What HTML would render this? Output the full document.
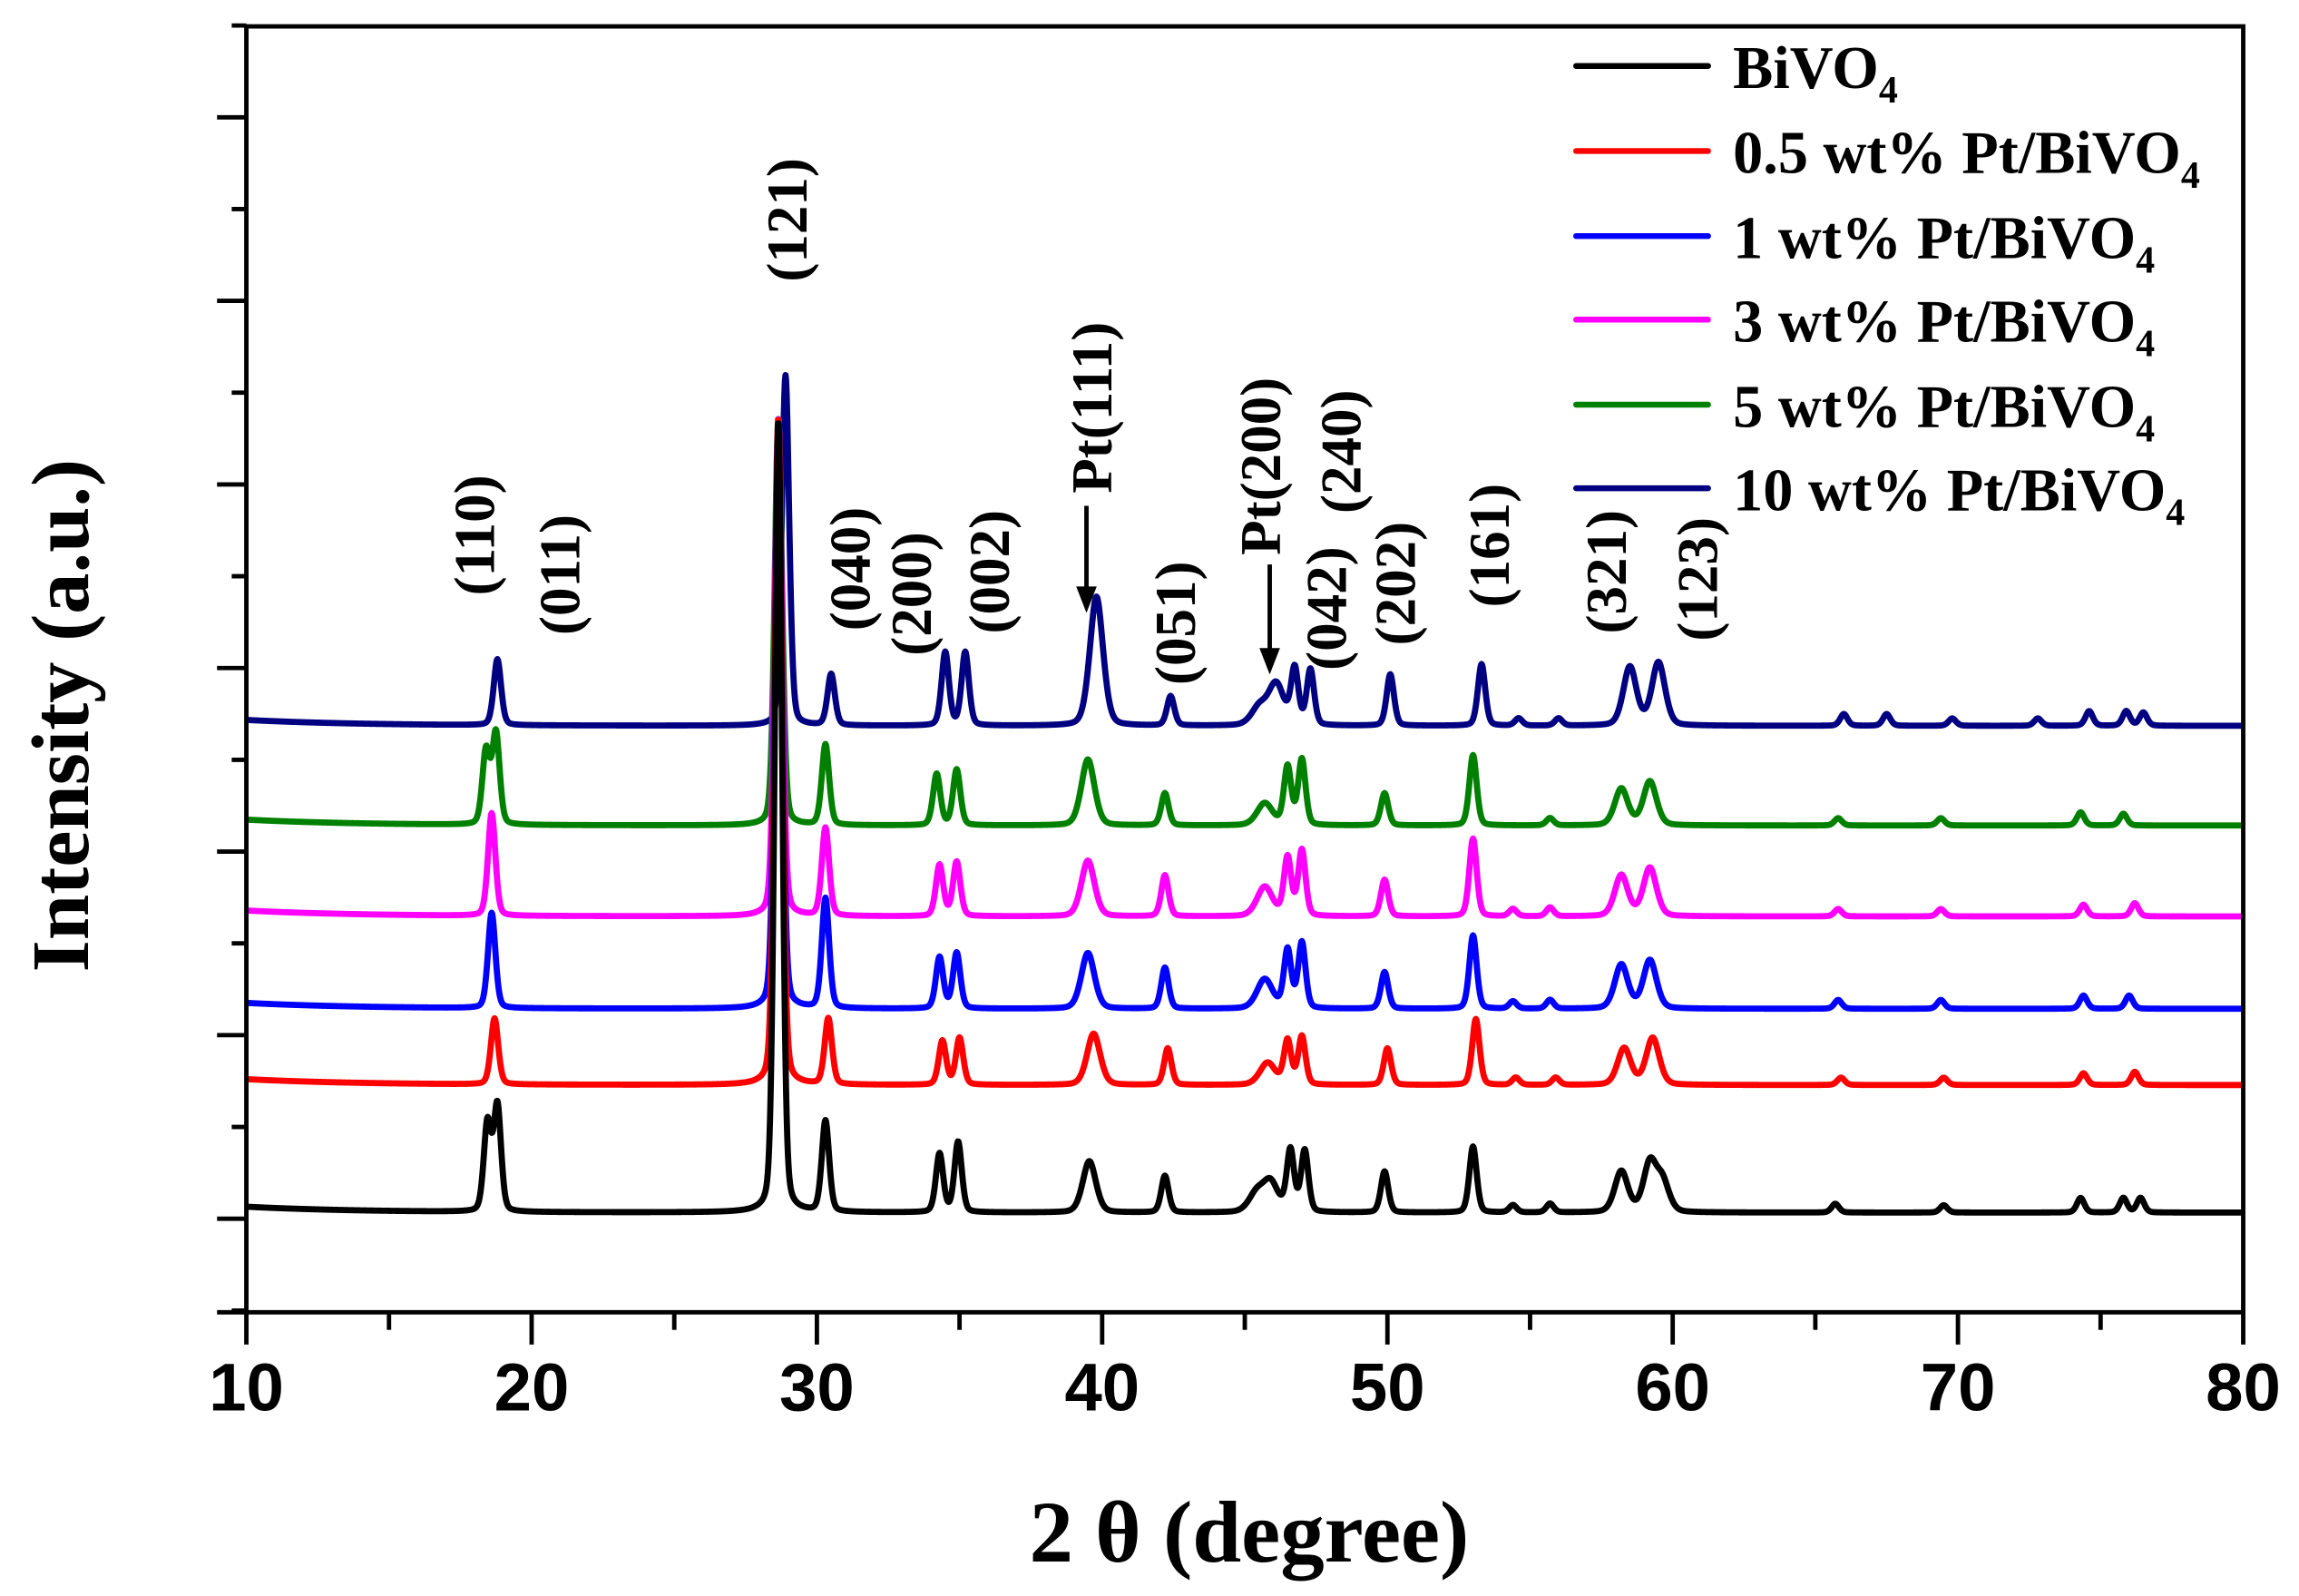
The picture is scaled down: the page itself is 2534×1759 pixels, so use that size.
<!DOCTYPE html>
<html><head><meta charset="utf-8"><style>
html,body{margin:0;padding:0;background:#fff;}
svg{display:block;}
text{font-family:"Liberation Serif",serif;font-weight:bold;fill:#000;}
.tk{font-family:"Liberation Sans",sans-serif;}
</style></head><body>
<svg id="chart" width="2534" height="1759" viewBox="0 0 1568 1088.5" xmlns="http://www.w3.org/2000/svg">
<g id="series"></g>
<g id="axes"></g>
<g id="ann"></g>
<g id="legend"></g>
<text x="852" y="1065" font-size="60" text-anchor="middle">2 θ (degree)</text>
<text transform="translate(60,488) rotate(-90)" font-size="56" text-anchor="middle">Intensity (a.u.)</text>
</svg>
<script>
const xTicks = [10,20,30,40,50,60,70,80];
const seriesNames = ["BiVO4","0.5 wt% Pt/BiVO4","1 wt% Pt/BiVO4","3 wt% Pt/BiVO4","5 wt% Pt/BiVO4","10 wt% Pt/BiVO4"];
const seriesColors = ["#000000","#ff0000","#0000ff","#ff00ff","#008000","#000080"];
const baselines = [0, 87, 139, 202, 264, 332];
const posBlack = [18.45,18.8,28.65,30.3,34.3,34.95,39.55,42.2,45.4,45.9,46.6,47.1,49.9,53.0,54.4,55.7,58.2,59.2,59.65,65.7,69.5,74.3,75.8,76.4];
const htBlack  = [60,72,540,62,40,48,35,25,12,20,42,42,28,45,5,6,28,33,20,6,5,10,10,10];
const posRed = [18.7,28.65,30.4,34.4,35.0,39.7,42.3,45.8,46.5,47.0,50.0,53.1,54.5,55.9,58.3,59.3,65.9,69.5,74.4,76.2];
const htRed  = [45,455,45,30,32,35,25,15,30,33,25,45,5,5,25,32,5,5,8,9];
const posBlue = [18.6,28.65,30.3,34.3,34.9,39.5,42.2,45.7,46.5,47.0,49.9,53.0,54.4,55.7,58.2,59.2,65.8,69.4,74.4,76.0];
const htBlue  = [65,400,75,35,38,38,28,20,40,45,25,50,5,6,30,33,6,6,9,9];
const posMag = [18.6,28.65,30.3,34.3,34.9,39.5,42.2,45.7,46.5,47.0,49.9,53.0,54.4,55.7,58.2,59.2,65.8,69.4,74.4,76.2];
const htMag  = [70,340,60,35,37,38,28,20,40,45,25,53,5,6,28,33,5,5,8,9];
const posGreen = [18.4,18.75,28.65,30.3,34.2,34.9,39.5,42.2,45.7,46.5,47.0,49.9,53.0,55.7,58.2,59.2,65.8,69.4,74.3,75.8];
const htGreen  = [50,62,278,55,35,38,45,22,15,40,45,22,48,5,25,30,5,5,9,8];
const posNavy = [18.8,28.9,30.5,34.5,35.2,39.8,42.4,45.5,46.1,46.75,47.3,50.1,53.3,54.6,56.0,58.5,59.5,66.0,67.5,69.8,72.8,74.6,75.9,76.5];
const htNavy  = [45,239,35,50,50,88,20,12,28,38,38,35,42,5,5,40,43,8,8,5,5,10,10,9];
const peakPos = [posBlack,posRed,posBlue,posMag,posGreen,posNavy];
const peakHt = [htBlack,htRed,htBlue,htMag,htGreen,htNavy];

const NS="http://www.w3.org/2000/svg";
const X0=168,X1=1530,YT=18,YB=895,Y0=827;
function xs(v){return X0+(v-10)/70*(X1-X0);}
function ys(v){return Y0-v;}
function mk(tag,attrs,parent){const e=document.createElementNS(NS,tag);for(const k in attrs)e.setAttribute(k,attrs[k]);parent.appendChild(e);return e;}

const sg=document.getElementById('series');
for(let s=seriesNames.length-1;s>=0;s--){
  const P=peakPos[s],H=peakHt[s];
  let d="";
  for(let x=10;x<=80.0001;x+=0.02){
    let y=baselines[s]+4*Math.exp(-(x-10)/4);
    for(let i=0;i<P.length;i++){
      const w=(P[i]>38.5&&P[i]<41)||(P[i]>57.5&&P[i]<60.5)?0.34:(P[i]>45&&P[i]<46.3?0.4:0.19);
      const t=(x-P[i])/w;
      y+=H[i]*(0.7*Math.exp(-t*t)+0.3/(1+t*t*2));
    }
    d+=(d?"L":"M")+xs(x).toFixed(2)+","+ys(y).toFixed(2);
  }
  const p=mk('path',{d:d,fill:'none',stroke:seriesColors[s],'stroke-width':4.2,'stroke-linejoin':'round'},sg);
  
  
}

const ax=document.getElementById('axes');
const frame=mk('rect',{x:X0,y:YT,width:X1-X0,height:YB-YT,fill:'none',stroke:'#000','stroke-width':3},ax);


for(let i=0;i<xTicks.length;i++){
  const x=xs(xTicks[i]);
  mk('line',{x1:x,y1:YB,x2:x,y2:YB+22,stroke:'#000','stroke-width':3},ax);
  const t=mk('text',{x:x,y:962,'font-size':46,'text-anchor':'middle',class:'tk'},ax);
  t.textContent=xTicks[i];
  
  
  if(i<xTicks.length-1){const xm=xs(xTicks[i]+5);mk('line',{x1:xm,y1:YB,x2:xm,y2:YB+12,stroke:'#000','stroke-width':3},ax);}
}
for(let k=0;k<7;k++){
  const y=80+125.2*k;
  mk('line',{x1:X0-20,y1:y,x2:X0,y2:y,stroke:'#000','stroke-width':3},ax);
  mk('line',{x1:X0-10,y1:y+62.6,x2:X0,y2:y+62.6,stroke:'#000','stroke-width':3},ax);
  if(k==0) mk('line',{x1:X0-10,y1:y-62.6,x2:X0,y2:y-62.6,stroke:'#000','stroke-width':3},ax);
}
mk('line',{x1:X0-20,y1:YB,x2:X0,y2:YB,stroke:'#000','stroke-width':3},ax);

const an=document.getElementById('ann');
const labels=[["(110)",324,365],["(011)",382,392],["(121)",537,150],["(040)",580,388],["(200)",622,405],["(002)",675,390],["Pt(111)",745,278],["(051)",802,425],["Pt(200)",860,318],["(042)",905,415],["(240)",915,308],["(202)",952,398],["(161)",1016,372],["(321)",1096,390],["(123)",1158,395]];
labels.forEach(l=>{
  const t=mk('text',{transform:`translate(${l[1]+13},${l[2]}) rotate(-90)`,'font-size':39,'text-anchor':'middle'},an);
  t.textContent=l[0];
  
  
});
[[741,345,418],[866,385,460]].forEach(a=>{
  mk('line',{x1:a[0],y1:a[1],x2:a[0],y2:a[2]-14,stroke:'#000','stroke-width':3},an);
  mk('polygon',{points:`${a[0]-7},${a[2]-18} ${a[0]+7},${a[2]-18} ${a[0]},${a[2]}`,fill:'#000'},an);
});

const lg=document.getElementById('legend');
const ly=[45,103,161,218,276,333];
for(let s=0;s<seriesNames.length;s++){
  mk('line',{x1:1075,y1:ly[s],x2:1165,y2:ly[s],stroke:seriesColors[s],'stroke-width':4,'stroke-linecap':'round'},lg);
  const t=mk('text',{x:1182,y:ly[s]+15,'font-size':41},lg);
  const base=seriesNames[s].slice(0,-1);
  t.textContent=base;
  const sub=mk('tspan',{'font-size':26,dy:10},t);
  sub.textContent='4';
  
  
}
</script>
</body></html>
